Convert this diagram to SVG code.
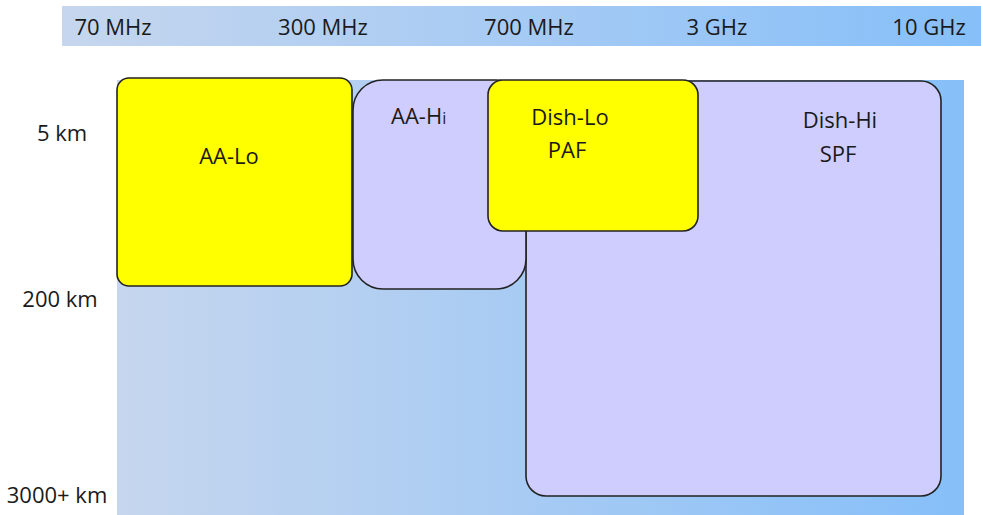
<svg xmlns="http://www.w3.org/2000/svg" width="981" height="515" viewBox="0 0 981 515">
<style>
text{font-family:"Open Sans","Liberation Sans",sans-serif;font-size:22px;fill:#1a1a1a}
.c{text-anchor:middle}
.box{stroke:#222;stroke-width:1.6}
.y{fill:#ffff00}
.l{fill:#cfcdfd}
</style>
<defs>
<linearGradient id="g" x1="0" y1="0" x2="1" y2="0">
<stop offset="0" stop-color="#c6d6ee"/>
<stop offset="1" stop-color="#86bff9"/>
</linearGradient>
</defs>
<rect x="62" y="6" width="919" height="40" fill="url(#g)"/>
<rect x="117" y="80" width="847" height="435" fill="url(#g)"/>
<g id="axis-freq">
<text class="c" x="113" y="35">70 MHz</text>
<text class="c" x="323" y="35">300 MHz</text>
<text class="c" x="529" y="35">700 MHz</text>
<text class="c" x="717" y="35">3 GHz</text>
<text class="c" x="929" y="35">10 GHz</text>
</g>
<g id="axis-dist">
<text class="c" x="62" y="141">5 km</text>
<text class="c" x="60" y="307">200 km</text>
<text class="c" x="57" y="503">3000+ km</text>
</g>
<g id="connectors"></g>
<g id="dish-hi">
<rect class="box l" x="526" y="81" width="415" height="415" rx="20"/>
<text class="c" x="840" y="128">Dish-Hi</text>
<text class="c" x="838" y="162">SPF</text>
</g>
<g id="aa-hi">
<rect class="box l" x="353" y="80" width="173" height="209" rx="30"/>
<text x="391" y="124">AA-H<tspan font-size="16">i</tspan></text>
</g>
<g id="dish-lo">
<rect class="box y" x="488" y="80" width="210" height="151" rx="15"/>
<text class="c" x="570" y="125">Dish-Lo</text>
<text class="c" x="567" y="158">PAF</text>
</g>
<g id="aa-lo">
<rect class="box y" x="117" y="78" width="235" height="208" rx="12"/>
<text class="c" x="229" y="164">AA-Lo</text>
</g>
</svg>
